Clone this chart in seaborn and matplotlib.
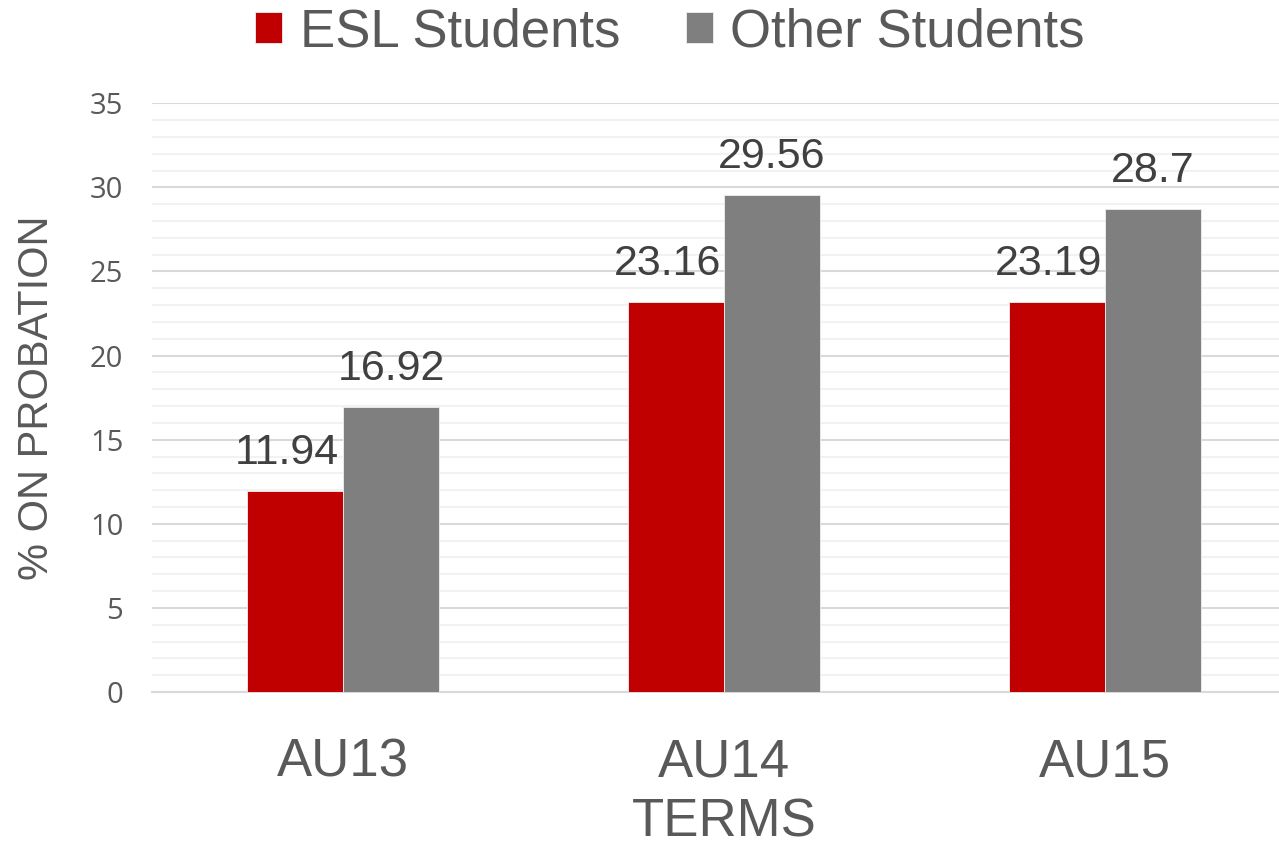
import matplotlib
matplotlib.use("Agg")
import matplotlib.pyplot as plt
from matplotlib.ticker import MultipleLocator
import pandas as pd
import seaborn as sns

terms = ["AU13", "AU14", "AU15"]
esl_students = [11.94, 23.16, 23.19]
other_students = [16.92, 29.56, 28.70]
groups = ["ESL Students", "Other Students"]
colors = ["#C00000", "#7F7F7F"]

df = pd.DataFrame({
    "term": terms * 2,
    "pct": esl_students + other_students,
    "group": [groups[0]] * len(terms) + [groups[1]] * len(terms),
})

sns.set_theme(style="white")
plt.rcParams["font.family"] = ["Liberation Sans", "DejaVu Sans"]

fig = plt.figure(figsize=(12.79, 8.46), dpi=100)
ax = fig.add_axes([0.1192, 0.182, 0.8937, 0.696])

sns.barplot(data=df, x="term", y="pct", hue="group", order=terms,
            hue_order=groups, palette=colors, saturation=1, width=0.505,
            gap=0, edgecolor="#f0f0f0", linewidth=0.6, ax=ax, legend=True,
            zorder=3)

# value labels above each bar; the ESL labels sit a touch to the left
for i, cont in enumerate(ax.containers):
    anns = ax.bar_label(cont, labels=[f"{v:g}" for v in cont.datavalues],
                        padding=13, fontsize=31, color="#404040")
    if i == 0:
        for a in anns:
            a.xyann = (-6, 13)

ax.set_ylim(0, 35)
ax.set_xlim(-0.5, 2.5)
ax.yaxis.set_major_locator(MultipleLocator(5))
ax.yaxis.set_minor_locator(MultipleLocator(1))
ax.grid(axis="y", which="major", color="#D9D9D9", linewidth=1.5, zorder=0)
ax.grid(axis="y", which="minor", color="#F2F2F2", linewidth=1.5, zorder=0)
ax.grid(axis="x", visible=False)
ax.set_axisbelow(True)
for side in ["top", "right", "left"]:
    ax.spines[side].set_visible(False)
ax.spines["bottom"].set_color("#D9D9D9")
ax.spines["bottom"].set_linewidth(1.5)

ax.tick_params(axis="y", which="both", length=0, pad=21, labelsize=21,
               labelcolor="#595959")
for lbl in ax.get_yticklabels():
    lbl.set_fontfamily("Open Sans")
ax.tick_params(axis="x", length=0, pad=33, labelsize=38, labelcolor="#595959")

ax.set_xlabel("TERMS", fontsize=38, color="#595959", labelpad=7)
ax.set_ylabel("% ON PROBATION", fontsize=30, color="#595959", labelpad=24)

ax.legend_.remove()
handles, labels = ax.get_legend_handles_labels()
fig.legend(handles[:2], labels[:2], loc="center", ncol=2,
           bbox_to_anchor=(0.524, 0.962), frameon=False, fontsize=38,
           labelcolor="#595959", handlelength=0.51, handleheight=0.51,
           handletextpad=0.33, columnspacing=1.25, borderpad=0)

fig.savefig("out.png", dpi=100)
